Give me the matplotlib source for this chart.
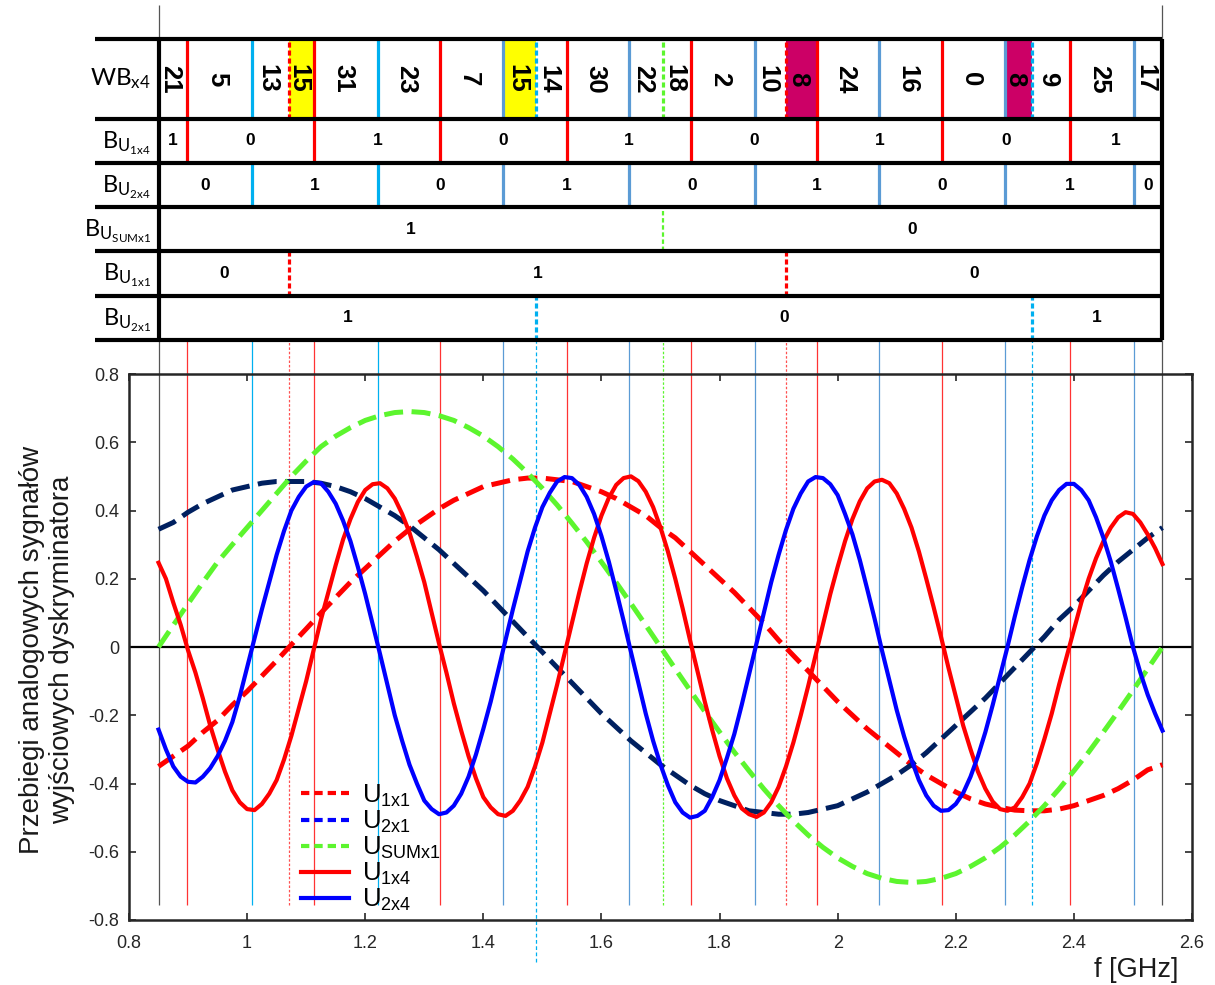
import numpy as np
import matplotlib.pyplot as plt
from matplotlib.lines import Line2D

plt.rcParams.update({
    "font.family": ["Liberation Sans", "DejaVu Sans"],
    "axes.unicode_minus": False,
    "mathtext.default": "regular",
})

# ============================================
# Data
# ============================================
freq_fast = np.linspace(0.85, 2.55, 137)  # 12.5 MHz grid for the x4 signals
freq_slow = np.linspace(0.85, 2.55, 69)   # 25 MHz grid for the x1 signals

u1x4 = [0.247, 0.20, 0.13, 0.065, -0.01, -0.075, -0.15, -0.23, -0.30, -0.365,
        -0.42, -0.455, -0.475, -0.478, -0.46, -0.43, -0.39, -0.33, -0.26, -0.18,
        -0.10, -0.01, 0.08, 0.16, 0.24, 0.315, 0.375, 0.425, 0.46, 0.477,
        0.48, 0.465, 0.435, 0.39, 0.335, 0.265, 0.19, 0.10, 0.01, -0.075,
        -0.165, -0.245, -0.32, -0.385, -0.44, -0.47, -0.49, -0.495, -0.48, -0.45,
        -0.41, -0.35, -0.28, -0.195, -0.11, -0.02, 0.07, 0.16, 0.245, 0.32,
        0.385, 0.437, 0.475, 0.495, 0.50, 0.486, 0.455, 0.41, 0.35, 0.28,
        0.20, 0.113, 0.02, -0.07, -0.16, -0.243, -0.32, -0.385, -0.435, -0.473,
        -0.49, -0.498, -0.485, -0.455, -0.41, -0.35, -0.28, -0.20, -0.115, -0.025,
        0.065, 0.155, 0.235, 0.31, 0.375, 0.427, 0.465, 0.485, 0.49, 0.48,
        0.45, 0.405, 0.35, 0.28, 0.20, 0.117, 0.03, -0.06, -0.145, -0.23,
        -0.30, -0.365, -0.415, -0.453, -0.475, -0.48, -0.47, -0.44, -0.40, -0.34,
        -0.27, -0.195, -0.11, -0.03, 0.05, 0.13, 0.20, 0.26, 0.31, 0.35,
        0.38, 0.395, 0.39, 0.365, 0.33, 0.29, 0.243]
u2x4 = [-0.242, -0.30, -0.35, -0.38, -0.395, -0.397, -0.38, -0.355, -0.32, -0.275,
        -0.22, -0.145, -0.06, 0.025, 0.11, 0.19, 0.27, 0.34, 0.40, 0.44,
        0.47, 0.483, 0.48, 0.455, 0.42, 0.37, 0.31, 0.235, 0.155, 0.068,
        -0.02, -0.11, -0.20, -0.275, -0.345, -0.40, -0.45, -0.475, -0.49, -0.485,
        -0.465, -0.43, -0.38, -0.315, -0.24, -0.16, -0.07, 0.02, 0.11, 0.195,
        0.28, 0.35, 0.41, 0.452, 0.485, 0.498, 0.495, 0.475, 0.44, 0.39,
        0.325, 0.25, 0.165, 0.077, -0.015, -0.105, -0.195, -0.275, -0.345, -0.405,
        -0.455, -0.485, -0.50, -0.495, -0.48, -0.44, -0.39, -0.325, -0.255, -0.17,
        -0.08, 0.01, 0.10, 0.19, 0.27, 0.343, 0.405, 0.45, 0.485, 0.498,
        0.495, 0.477, 0.445, 0.39, 0.33, 0.255, 0.17, 0.083, -0.01, -0.097,
        -0.185, -0.262, -0.33, -0.39, -0.435, -0.465, -0.48, -0.478, -0.46, -0.428,
        -0.38, -0.32, -0.25, -0.17, -0.085, 0.0, 0.09, 0.175, 0.255, 0.325,
        0.385, 0.43, 0.46, 0.478, 0.478, 0.46, 0.43, 0.38, 0.32, 0.25,
        0.17, 0.087, 0.0, -0.075, -0.14, -0.195, -0.245]
u1x1 = [-0.35, -0.32, -0.29, -0.25, -0.215, -0.17, -0.13, -0.085, -0.04, 0.007,
        0.053, 0.10, 0.145, 0.19, 0.23, 0.27, 0.31, 0.345, 0.375, 0.405,
        0.43, 0.45, 0.47, 0.48, 0.49, 0.495, 0.495, 0.49, 0.485, 0.47,
        0.455, 0.435, 0.41, 0.385, 0.35, 0.32, 0.28, 0.24, 0.20, 0.16,
        0.115, 0.07, 0.02, -0.025, -0.07, -0.115, -0.16, -0.20, -0.24, -0.275,
        -0.31, -0.345, -0.375, -0.40, -0.425, -0.445, -0.46, -0.47, -0.478, -0.48,
        -0.48, -0.475, -0.465, -0.45, -0.435, -0.415, -0.39, -0.36, -0.345]
u2x1 = [0.345, 0.365, 0.395, 0.42, 0.44, 0.46, 0.47, 0.48, 0.485, 0.485,
        0.485, 0.48, 0.47, 0.455, 0.435, 0.41, 0.385, 0.355, 0.32, 0.285,
        0.245, 0.205, 0.165, 0.12, 0.075, 0.03, -0.015, -0.06, -0.105, -0.15,
        -0.195, -0.235, -0.275, -0.31, -0.345, -0.375, -0.405, -0.43, -0.45, -0.465,
        -0.48, -0.485, -0.49, -0.49, -0.485, -0.475, -0.465, -0.445, -0.425, -0.40,
        -0.375, -0.345, -0.31, -0.27, -0.23, -0.19, -0.15, -0.105, -0.06, -0.015,
        0.03, 0.08, 0.12, 0.165, 0.21, 0.25, 0.285, 0.32, 0.35]
usum_x1 = [0.0, 0.064, 0.127, 0.189, 0.249, 0.30, 0.35, 0.40, 0.45, 0.50,
           0.545, 0.587, 0.618, 0.643, 0.664, 0.678, 0.687, 0.69, 0.687, 0.678,
           0.664, 0.643, 0.618, 0.587, 0.551, 0.510, 0.465, 0.416, 0.363, 0.308,
           0.249, 0.189, 0.127, 0.064, 0.0, -0.064, -0.127, -0.189, -0.249, -0.308,
           -0.363, -0.416, -0.465, -0.510, -0.551, -0.587, -0.618, -0.643, -0.664, -0.678,
           -0.687, -0.69, -0.687, -0.678, -0.664, -0.643, -0.618, -0.587, -0.551, -0.510,
           -0.465, -0.416, -0.363, -0.308, -0.249, -0.189, -0.127, -0.064, 0.0]

# Zero crossings = bit boundaries (GHz)
f_start, f_stop = 0.85, 2.55
cross_u1x4 = [0.898, 1.114, 1.327, 1.541, 1.752, 1.965, 2.177, 2.393]
cross_u2x4 = [1.009, 1.221, 1.434, 1.647, 1.860, 2.070, 2.283, 2.502]
cross_u1x1 = [1.071, 1.912]
cross_u2x1 = [1.490, 2.329]
cross_usum = [1.704]

# Bits / codes in the table
wb_codes = [21, 5, 13, 15, 31, 23, 7, 15, 14, 30, 22, 18, 2, 10, 8, 24, 16, 0, 8, 9, 25, 17]
bits_u1x4 = [1, 0, 1, 0, 1, 0, 1, 0, 1]
bits_u2x4 = [0, 1, 0, 1, 0, 1, 0, 1, 0]
bits_usum = [1, 0]
bits_u1x1 = [0, 1, 0]
bits_u2x1 = [1, 0, 1]
yellow_spans = [(1.071, 1.114), (1.434, 1.490)]
magenta_spans = [(1.912, 1.965), (2.283, 2.329)]

# Colours
c_red = '#FF0000'
c_blue = '#0000FF'
c_navy = '#002060'
c_green = '#5CF52E'
c_cyan = '#00B0F0'
c_steel = '#5B9BD5'
u2x4_line_colors = [c_cyan, c_cyan] + [c_steel] * 6

# ============================================
# Figure layout (pixel based)
# ============================================
W, H = 1215, 985
fig = plt.figure(figsize=(W / 100, H / 100), dpi=100)
ax = fig.add_axes([129 / W, 1 - 920 / H, (1192 - 129) / W, (920 - 374) / H])
ax_t = fig.add_axes([129 / W, 1 - 340 / H, (1192 - 129) / W, (340 - 39) / H])
ax_t.set_zorder(3)

# ------------------------------------------------------------------
# 1. Signals plot
# ------------------------------------------------------------------
ax.set_xlim(0.8, 2.6)
ax.set_ylim(-0.8, 0.8)
y_low = -0.755
y_top = 0.8996   # bottom edge of the table

# thin marker lines
ax.vlines([f_start, f_stop], y_low, 1.88, color='#555555', lw=0.9, clip_on=False, zorder=1)
ax.vlines(cross_u1x4, y_low, y_top, color=c_red, lw=0.9, alpha=0.8, clip_on=False, zorder=1)
ax.vlines(cross_u2x4, y_low, y_top, colors=u2x4_line_colors, lw=0.9, clip_on=False, zorder=1)
ax.vlines(cross_u1x1, y_low, y_top, color='#FF5050', lw=0.9, linestyles=(0, (2, 1.5)),
          clip_on=False, zorder=1)
ax.vlines(cross_u2x1[0], -0.923, y_top, color=c_cyan, lw=0.9, linestyles=(0, (3, 2)),
          clip_on=False, zorder=1)
ax.vlines(cross_u2x1[1], y_low, y_top, color=c_cyan, lw=0.9, linestyles=(0, (3, 2)),
          clip_on=False, zorder=1)
ax.vlines(cross_usum, y_low, y_top, color=c_green, lw=0.9, linestyles=(0, (2, 1.5)),
          clip_on=False, zorder=1)
ax.axhline(0, color='black', lw=1.6, zorder=2)

dash = (0, (3.8, 1.7))
ax.plot(freq_slow, u1x1, color=c_red, lw=3.6, linestyle=dash, zorder=3)
ax.plot(freq_slow, u2x1, color=c_navy, lw=3.6, linestyle=dash, zorder=3)
ax.plot(freq_slow, usum_x1, color=c_green, lw=3.6, linestyle=dash, zorder=3)
ax.plot(freq_fast, u1x4, color=c_red, lw=3.0, zorder=4, solid_joinstyle='round')
ax.plot(freq_fast, u2x4, color=c_blue, lw=3.0, zorder=4, solid_joinstyle='round')

ax.set_xticks(np.arange(0.8, 2.61, 0.2))
ax.set_xticklabels(['0.8', '1', '1.2', '1.4', '1.6', '1.8', '2', '2.2', '2.4', '2.6'])
ax.set_yticks(np.arange(-0.8, 0.81, 0.2))
ax.set_yticklabels(['-0.8', '-0.6', '-0.4', '-0.2', '0', '0.2', '0.4', '0.6', '0.8'])
ax.tick_params(direction='in', top=True, right=True, length=5, width=1.2,
               labelsize=13, labelcolor='#262626', color='#262626')
ax.tick_params(axis='x', pad=11)
ax.tick_params(axis='y', pad=7)
for sp in ax.spines.values():
    sp.set_linewidth(1.8)
    sp.set_color('#262626')

dotted = (0, (2, 1.2))
handles = [
    Line2D([], [], color=c_red, lw=3, linestyle=dotted),
    Line2D([], [], color=c_blue, lw=3, linestyle=dotted),
    Line2D([], [], color=c_green, lw=3, linestyle=dotted),
    Line2D([], [], color=c_red, lw=3),
    Line2D([], [], color=c_blue, lw=3),
]
labels = ['U$_{1x1}$', 'U$_{2x1}$', 'U$_{SUMx1}$', 'U$_{1x4}$', 'U$_{2x4}$']
ax.legend(handles, labels, loc='upper left', bbox_to_anchor=(0.145, 0.285), frameon=False,
          fontsize=18.5, handlelength=1.85, handletextpad=0.5, labelspacing=0.0,
          borderpad=0.2)

fig.text(1178 / W, 1 - 970 / H, 'f [GHz]', ha='right', va='center', fontsize=19.5,
         color='#1a1a1a')
fig.text(47 / W, 1 - 650 / H, 'Przebiegi analogowych sygnałów\nwyjściowych dyskryminatora',
         rotation=90, ha='center', va='center', fontsize=20, color='#1a1a1a',
         multialignment='center', linespacing=1.2)

# ------------------------------------------------------------------
# 2. Bit table above the plot
# ------------------------------------------------------------------
ax_t.set_xlim(0.8, 2.6)
ax_t.set_ylim(0, 6.8)
ax_t.axis('off')
ax_t.patch.set_alpha(0)

row_edges = [6.8, 5.0, 4.0, 3.0, 2.0, 1.0, 0.0]
x_left = 0.7424

for x0, x1 in yellow_spans:
    ax_t.fill_betweenx([5.0, 6.8], x0, x1, color='#FFFF00', lw=0, zorder=1)
for x0, x1 in magenta_spans:
    ax_t.fill_betweenx([5.0, 6.8], x0, x1, color='#CC0066', lw=0, zorder=1)

lw_t = 2.3
dots = (0, (1.6, 0.9))
# WB row boundaries
ax_t.vlines(cross_u1x4, 5.0, 6.8, color=c_red, lw=lw_t, zorder=2)
ax_t.vlines(cross_u2x4, 5.0, 6.8, colors=u2x4_line_colors, lw=lw_t, zorder=2)
ax_t.vlines(cross_u1x1, 5.0, 6.8, color=c_red, lw=lw_t, linestyles=dots, zorder=2)
ax_t.vlines(cross_u2x1, 5.0, 6.8, color=c_cyan, lw=lw_t, linestyles=dots, zorder=2)
ax_t.vlines(cross_usum, 5.0, 6.8, color=c_green, lw=lw_t, linestyles=dots, zorder=2)
# bit rows
ax_t.vlines(cross_u1x4, 4.0, 5.0, color=c_red, lw=lw_t, zorder=2)
ax_t.vlines(cross_u2x4, 3.0, 4.0, colors=u2x4_line_colors, lw=lw_t, zorder=2)
ax_t.vlines(cross_usum, 2.0, 3.0, color=c_green, lw=1.6, linestyles=(0, (2, 1.2)), zorder=2)
ax_t.vlines(cross_u1x1, 1.0, 2.0, color=c_red, lw=lw_t, linestyles=dots, zorder=2)
ax_t.vlines(cross_u2x1, 0.0, 1.0, color=c_cyan, lw=lw_t, linestyles=dots, zorder=2)

# grid of the table
ax_t.hlines(row_edges, x_left, f_stop, color='black', lw=3, zorder=4, clip_on=False)
ax_t.vlines([f_start, f_stop], 0, 6.8, color='black', lw=3, zorder=4, clip_on=False)

# WB codes (rotated text, nudged left to centre the glyphs)
wb_edges = [f_start] + sorted(cross_u1x4 + cross_u2x4 + cross_u1x1 + cross_u2x1 + cross_usum) + [f_stop]
for i, code in enumerate(wb_codes):
    xc = 0.5 * (wb_edges[i] + wb_edges[i + 1]) - 0.005
    ax_t.text(xc, 5.9, str(code), rotation=-90, ha='center', va='center',
              fontsize=18.5, fontweight='bold', zorder=5)


def bit_row(bits, crossings, yc):
    edges = [f_start] + list(crossings) + [f_stop]
    for i, b in enumerate(bits):
        xc = 0.5 * (edges[i] + edges[i + 1])
        ax_t.text(xc, yc, str(b), ha='center', va='center', fontsize=12.5,
                  fontweight='bold', zorder=5)


bit_row(bits_u1x4, cross_u1x4, 4.5)
bit_row(bits_u2x4, cross_u2x4, 3.5)
bit_row(bits_usum, cross_usum, 2.5)
bit_row(bits_u1x1, cross_u1x1, 1.5)
bit_row(bits_u2x1, cross_u2x1, 0.5)

# row labels
x_lab = 0.8372
ax_t.text(x_lab, 5.9, 'WB$_{x4}$', ha='right', va='center', fontsize=17.5, family='Lato')
row_names = ['B$_{U_{1x4}}$', 'B$_{U_{2x4}}$', 'B$_{U_{SUMx1}}$', 'B$_{U_{1x1}}$', 'B$_{U_{2x1}}$']
for k, name in enumerate(row_names):
    ax_t.text(x_lab, 4.45 - k, name, ha='right', va='center', fontsize=17, family='Lato')

fig.savefig('out.png', dpi=100)
